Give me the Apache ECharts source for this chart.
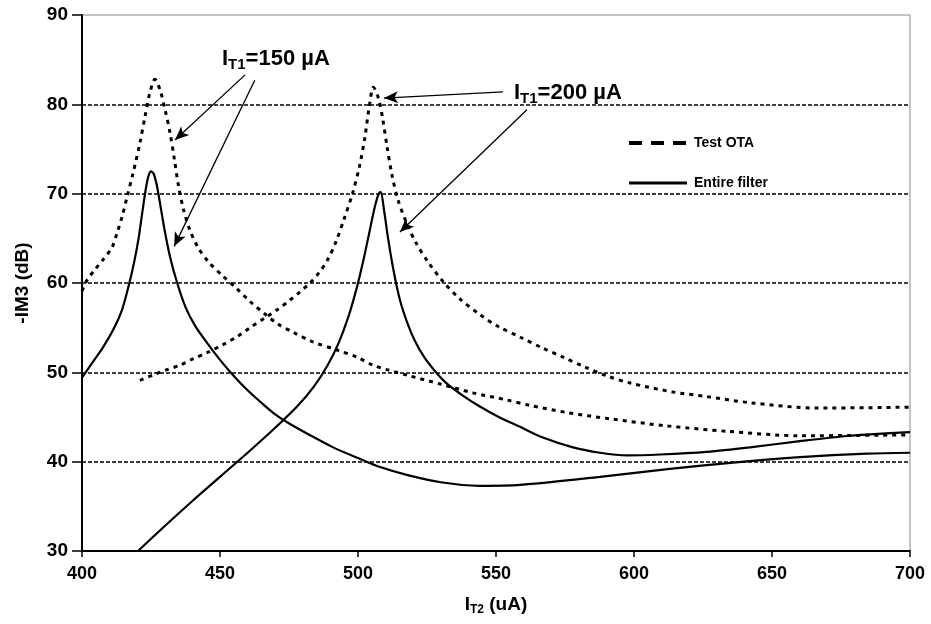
<!DOCTYPE html>
<html>
<head>
<meta charset="utf-8">
<script src="https://cdn.jsdelivr.net/npm/echarts@6/dist/echarts.min.js"></script>
<style>
  html, body { margin: 0; padding: 0; background: #fff; }
  #chart { width: 931px; height: 624px; }
</style>
</head>
<body>
<div id="chart"></div>
<script>
// values, [I_T2 (uA), -IM3 (dB)]
var otaA = [[400,59.1],[401.8,60.3],[404.7,61.5],[407.6,62.6],[410.9,64.0],[412.7,65.6],[414.5,67.4],[416.3,69.6],
  [418.5,72.3],[421,75.7],[422.8,78.6],[424.6,81.3],[426.4,82.8],[428.3,81.6],[430.1,79.4],[431.9,76.8],[433.5,73.8],
  [435,70.8],[436.8,68.2],[439,66.0],[442,64.0],[446,62.3],[451,60.8],[456,59.4],[461,57.9],[466,56.6],[471,55.4],
  [476.4,54.5],[483.7,53.4],[492.4,52.5],[499.6,51.7],[505.4,50.8],[510.5,50.3],[518.8,49.6],[529.7,48.7],[541.7,47.7],
  [554,46.9],[562.3,46.3],[575.7,45.5],[591.3,44.8],[612,44.0],[633.7,43.4],[660.1,42.9],[700,43.0]];
var otaB = [[421,49.1],[425.7,49.7],[430.8,50.3],[435.5,50.8],[440.2,51.5],[445.3,52.2],[451.1,53.1],[456.2,54.0],
  [460.9,55.0],[466.3,56.1],[470.7,57.0],[475.4,58.1],[479,59.0],[482.6,60.0],[486,61.2],[489,62.6],[492,64.6],
  [495,67.2],[498,70.0],[500.5,73.0],[502.5,76.3],[504,79.6],[505.6,81.9],[507.5,80.6],[509,78.3],[510.5,75.3],
  [512.3,72.1],[514.5,69.3],[517.5,66.8],[521,64.5],[525.5,62.3],[531,60.1],[537,58.2],[544,56.5],[551,55.1],
  [559,53.9],[567,52.7],[574.3,51.7],[582.2,50.6],[590.2,49.6],[598.6,48.8],[614.1,47.8],[626,47.3],[642,46.6],
  [666.3,46.0],[700,46.1]];
var filterA = [[400,49.4],[404,51.2],[407.6,52.8],[411.2,54.7],[414.5,57.0],[417,59.8],[419,62.5],[420.5,65.0],
  [421.8,67.8],[423,70.3],[424,71.9],[425,72.5],[426,72.2],[427.2,70.8],[428.5,68.5],[430,65.8],[432,62.8],
  [434.5,60.0],[437.5,57.3],[441,55.2],[445.3,53.3],[450,51.4],[455,49.6],[460,48.0],[465,46.6],[470,45.3],
  [476,44.1],[483,42.9],[491,41.6],[500,40.4],[508,39.4],[518,38.5],[530,37.7],[544,37.3],[558.7,37.4],[587.7,38.3],
  [613,39.2],[635.9,39.9],[660.1,40.5],[684.4,40.9],[700,41.0]];
var filterB = [[420.3,30.0],[430,32.8],[440,35.6],[450,38.3],[460,41.0],[470,43.8],[478,46.2],[484,48.4],[489,50.8],
  [493,53.3],[496.5,56.2],[499.5,59.4],[502,62.6],[504.2,65.8],[506,68.4],[507.5,70.0],[508.2,70.2],[509.5,68.0],
  [511,64.8],[513,61.2],[515.2,58.1],[517.8,55.6],[520.5,53.6],[524,51.7],[528,50.1],[532,48.8],[538,47.4],
  [544,46.2],[551,45.0],[558.7,43.9],[567,42.7],[577.9,41.6],[587.7,41.0],[597.5,40.7],[609.4,40.8],[626.4,41.1],
  [642,41.6],[660.1,42.3],[678.3,42.9],[700,43.3]];

// annotation arrows, [from, to] in data units
var arrows = [
  [[459.1,83.3],[433.7,76.0]],
  [[462.6,82.7],[433.4,64.1]],
  [[552.5,81.4],[509.4,80.7]],
  [[561.2,79.4],[515.2,65.7]]
];
var xTicks = {min: 400, max: 700, step: 50};
var yTicks = {min: 30, max: 90, step: 10};

var dom = document.getElementById('chart');
var myChart = echarts.init(dom, null, {renderer: 'canvas'});

var dotted = {color: '#000', width: 3, type: [4, 5]};
var solid = {color: '#000', width: 2.2};
var labelFont = 'Liberation Sans, Arial, sans-serif';

function lineSeries(name, data, style) {
  return {
    name: name, type: 'line', data: data,
    smooth: 0.3,
    showSymbol: false, symbol: 'none',
    itemStyle: {color: '#000'},
    lineStyle: style
  };
}

var first = lineSeries('Test OTA', otaA, dotted);
first.markLine = {
  silent: true,
  symbol: ['none', 'arrow'],
  symbolSize: [9, 14],
  label: {show: false},
  lineStyle: {color: '#000', width: 1.3, type: 'solid'},
  data: arrows.map(function (a) {
    return [{coord: a[0]}, {coord: a[1]}];
  })
};

var option = {
  backgroundColor: '#fff',
  animation: false,
  grid: {
    left: 82, right: 21, top: 15, bottom: 73,
    show: true, borderColor: '#888', borderWidth: 1
  },
  legend: {
    orient: 'vertical',
    left: 622, top: 131,
    itemWidth: 58, itemHeight: 14, itemGap: 26,
    textStyle: {fontFamily: labelFont, fontWeight: 'bold', fontSize: 14, color: '#000', padding: [0, 0, 0, 2]},
    data: [
      {name: 'Test OTA', itemStyle: {opacity: 0}, lineStyle: {width: 4, type: [13, 9], color: '#000'}},
      {name: 'Entire filter', itemStyle: {opacity: 0}, lineStyle: {width: 3, type: 'solid', color: '#000'}}
    ]
  },
  xAxis: {
    type: 'value',
    min: xTicks.min, max: xTicks.max, interval: xTicks.step,
    axisLine: {lineStyle: {color: '#000', width: 2}},
    axisTick: {inside: false, length: 6, lineStyle: {color: '#000', width: 1.5}},
    axisLabel: {color: '#000', fontFamily: labelFont, fontWeight: 'bold', fontSize: 18, margin: 14},
    splitLine: {show: false},
    name: 'I{s|T2} (uA)',
    nameLocation: 'middle',
    nameGap: 43,
    nameTextStyle: {
      color: '#000', fontFamily: labelFont, fontWeight: 'bold', fontSize: 19,
      rich: {s: {fontFamily: labelFont, fontWeight: 'bold', fontSize: 12, padding: [10, 0, 0, 0], color: '#000'}}
    }
  },
  yAxis: {
    type: 'value',
    min: yTicks.min, max: yTicks.max, interval: yTicks.step,
    axisLine: {show: true, lineStyle: {color: '#000', width: 2}},
    axisTick: {show: true, inside: false, length: 10, lineStyle: {color: '#000', width: 1.5}},
    axisLabel: {color: '#000', fontFamily: labelFont, fontWeight: 'bold', fontSize: 19, margin: 14},
    splitLine: {
      show: true,
      lineStyle: {color: ['#000', '#000', '#000', '#000', '#000', '#000', 'rgba(0,0,0,0)'], width: 1.5, type: [4, 2]}
    },
    name: '-IM3 (dB)',
    nameLocation: 'middle',
    nameRotate: 90,
    nameGap: 50,
    nameTextStyle: {color: '#000', fontFamily: labelFont, fontWeight: 'bold', fontSize: 19}
  },
  graphic: [
    {
      type: 'text', left: 222, top: 48,
      style: {
        text: '{a|I}{s|T1}{a|=150 µA}',
        rich: {
          a: {fontFamily: labelFont, fontWeight: 'bold', fontSize: 22, fill: '#000'},
          s: {fontFamily: labelFont, fontWeight: 'bold', fontSize: 15, fill: '#000', padding: [11, 0, 0, 0]}
        }
      }
    },
    {
      type: 'text', left: 514, top: 82,
      style: {
        text: '{a|I}{s|T1}{a|=200 µA}',
        rich: {
          a: {fontFamily: labelFont, fontWeight: 'bold', fontSize: 22, fill: '#000'},
          s: {fontFamily: labelFont, fontWeight: 'bold', fontSize: 15, fill: '#000', padding: [11, 0, 0, 0]}
        }
      }
    }
  ],
  series: [
    first,
    lineSeries('Test OTA', otaB, dotted),
    lineSeries('Entire filter', filterA, solid),
    lineSeries('Entire filter', filterB, solid)
  ]
};
myChart.setOption(option);
</script>
</body>
</html>
